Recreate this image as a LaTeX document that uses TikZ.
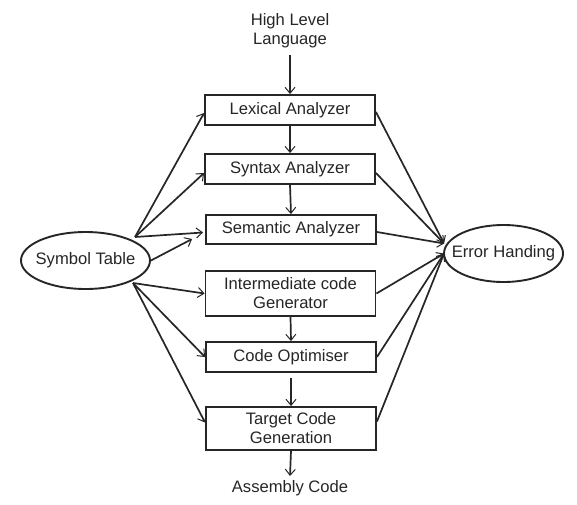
\documentclass[tikz,border=0pt]{standalone}
\usepackage{fontspec}
\setmainfont{Liberation Sans}
\usetikzlibrary{shapes.geometric,arrows.meta,calc}
\definecolor{ink}{HTML}{262626}
\begin{document}
\begin{tikzpicture}[x=1pt,y=-1pt,
  every node/.style={text=ink,font=\fontsize{16.6}{19}\selectfont,align=center,inner sep=0pt},
  stage/.style={draw=ink,line width=1.9pt,rectangle,minimum width=170pt},
  oval/.style={draw=ink,line width=1.9pt,ellipse},
  arr/.style={draw=ink,line width=1.7pt,-{Straight Barb[length=6pt,width=10pt,line width=1pt]}}
]
\useasboundingbox[fill=white] (0,0) rectangle (577,504);

\node (hll) at (290,31) {High Level\\Language};
\node[stage,minimum height=30pt] (lex) at (290,110) {Lexical Analyzer};
\node[stage,minimum height=30pt] (syn) at (290,169) {Syntax Analyzer};
\node[stage,minimum height=29pt] (sem) at (291,229.5) {Semantic Analyzer};
\node[stage,minimum height=45pt] (int) at (290.5,293.5) {Intermediate code\\Generator};
\node[stage,minimum height=30pt] (opt) at (291,357) {Code Optimiser};
\node[stage,minimum height=43pt] (tgt) at (291,428.5) {Target Code\\Generation};
\node (asm) at (290,488) {Assembly Code};
\node[oval,minimum width=129pt,minimum height=57pt] (sym) at (85.5,260.5) {\makebox[0pt]{Symbol Table}};
\node[oval,minimum width=119pt,minimum height=57pt] (err) at (503.5,253.5) {\makebox[0pt]{Error Handing}};

\coordinate (hllout) at (290,55);
\coordinate (asmin) at (290,476);
\coordinate (optout) at ($(opt.south)+(0,5)$);
\coordinate (symup) at ($(sym.center)+(49.5,-23.5)$);
\coordinate (symlow) at ($(sym.center)+(47.5,22.5)$);
\coordinate (semtip) at ($(sem.west)+(-13,9.5)$);
\coordinate (errup) at ($(err.west)+(1,-10)$);
\coordinate (errlow) at ($(err.west)+(1,0)$);

% main flow
\draw[arr] (hllout) -- (lex.north);
\draw[arr] (lex.south) -- (syn.north);
\draw[arr] (syn.south) -- (sem.north);
\draw[arr] (int.south) -- (opt.north);
\draw[arr] (optout) -- (tgt.north);
\draw[arr] (tgt.south) -- (asmin);

% symbol table links
\draw[arr] (symup) -- ($(lex.west)+(0,3)$);
\draw[arr] (symup) -- ($(syn.west)+(0,4)$);
\draw[arr] (symup) -- ($(sem.west)+(-2,3)$);
\draw[arr] (sym.east) -- (semtip);
\draw[arr] (symlow) -- (int.west);
\draw[arr] (symlow) -- (opt.west);
\draw[arr] (symlow) -- ($(tgt.west)+(0,-6)$);

% error handling links
\draw[arr] ($(lex.east)+(0,2)$) -- (errup);
\draw[arr] ($(syn.east)+(0,4)$) -- (errup);
\draw[arr] ($(sem.east)+(0,2.5)$) -- (errup);
\draw[arr] (int.east) -- (errlow);
\draw[arr] (opt.east) -- (errlow);
\draw[arr] ($(tgt.east)+(0,-7)$) -- (errlow);
\end{tikzpicture}
\end{document}
